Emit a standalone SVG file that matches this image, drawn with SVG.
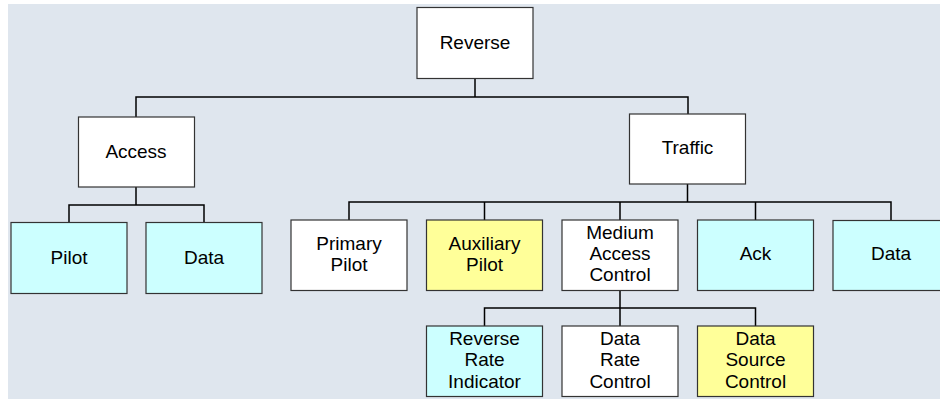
<svg xmlns="http://www.w3.org/2000/svg" width="940" height="399" viewBox="0 0 940 399">
<style>
.bx{stroke:#333;stroke-width:1.2}
.w{fill:#ffffff}
.c{fill:#ccffff}
.y{fill:#ffff99}
.t{font-family:"Liberation Sans",Arial,sans-serif;font-size:19px;fill:#000;text-anchor:middle}
.ln{stroke:#000;stroke-width:1.5;fill:none}
</style>
<rect x="0" y="0" width="940" height="399" fill="#ffffff"/>
<rect x="8" y="4" width="932" height="395" fill="#dfe6ee"/>
<g id="connectors">
<path class="ln" d="M475,78 V97 M136,117 V97 H688 V114"/>
<path class="ln" d="M136,187 V205 M69,222 V205 H204 V222"/>
<path class="ln" d="M687.5,184 V202 M349,220 V202 H891 V220 M484.5,202 V220 M620,202 V220 M755.5,202 V220"/>
<path class="ln" d="M620,290.5 V308 M484.5,326 V308 H755.5 V326 M620,308 V326"/>
</g>
<g id="reverse"><rect class="bx w" x="417" y="7.5" width="116" height="71"/><text class="t" x="475" y="48.5">Reverse</text></g>
<g id="access"><rect class="bx w" x="78.5" y="117" width="116" height="70"/><text class="t" x="136" y="158">Access</text></g>
<g id="traffic"><rect class="bx w" x="629.5" y="114" width="116" height="70"/><text class="t" x="687.5" y="153.5">Traffic</text></g>
<g id="access-pilot"><rect class="bx c" x="11" y="222.5" width="116" height="71"/><text class="t" x="69" y="263.5">Pilot</text></g>
<g id="access-data"><rect class="bx c" x="146" y="222.5" width="116" height="71"/><text class="t" x="204" y="263.5">Data</text></g>
<g id="primary-pilot"><rect class="bx w" x="291" y="220" width="116" height="70.5"/><text class="t" x="349" y="250">Primary</text><text class="t" x="349" y="271">Pilot</text></g>
<g id="auxiliary-pilot"><rect class="bx y" x="426.5" y="220" width="116" height="70.5"/><text class="t" x="484.5" y="250">Auxiliary</text><text class="t" x="484.5" y="271">Pilot</text></g>
<g id="mac"><rect class="bx w" x="562" y="220" width="116" height="70.5"/><text class="t" x="620" y="238.5">Medium</text><text class="t" x="620" y="259.5">Access</text><text class="t" x="620" y="281">Control</text></g>
<g id="ack"><rect class="bx c" x="697.5" y="220" width="116" height="70.5"/><text class="t" x="755.5" y="260">Ack</text></g>
<g id="traffic-data"><rect class="bx c" x="833" y="220.5" width="116" height="70"/><text class="t" x="891" y="260">Data</text></g>
<g id="rri"><rect class="bx c" x="426.5" y="326" width="116" height="70.5"/><text class="t" x="484.5" y="344.5">Reverse</text><text class="t" x="484.5" y="366">Rate</text><text class="t" x="484.5" y="387.5">Indicator</text></g>
<g id="drc"><rect class="bx w" x="562" y="326" width="116" height="70.5"/><text class="t" x="620" y="344.5">Data</text><text class="t" x="620" y="366">Rate</text><text class="t" x="620" y="387.5">Control</text></g>
<g id="dsc"><rect class="bx y" x="697.5" y="326" width="116" height="70.5"/><text class="t" x="755.5" y="344.5">Data</text><text class="t" x="755.5" y="366">Source</text><text class="t" x="755.5" y="387.5">Control</text></g>
</svg>
